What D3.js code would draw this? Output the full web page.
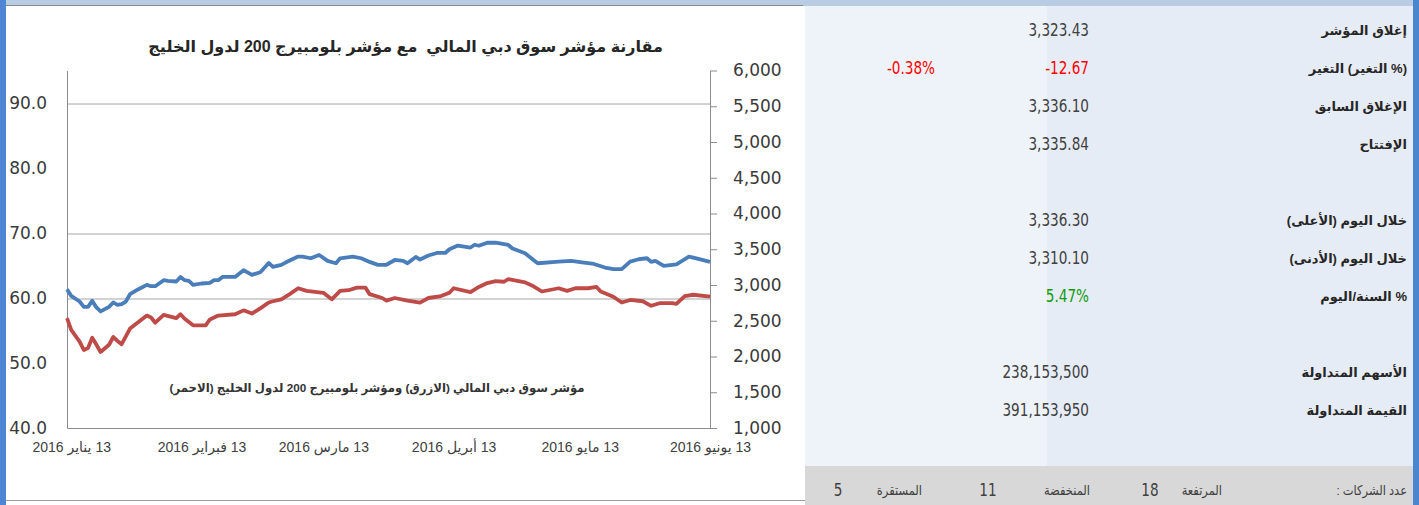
<!DOCTYPE html>
<html>
<head>
<meta charset="utf-8">
<script src="https://cdn.jsdelivr.net/npm/d3@7"></script>
<style>
  body { margin: 0; background: #fff; }
  svg { display: block; }
  .axis text { font-family: "DejaVu Sans", sans-serif; fill: #3a3a3a; }
  .x-axis text { font-family: "Liberation Sans", "DejaVu Sans", sans-serif; font-size: 14px; fill: #404040; }
  .ar { font-family: "Liberation Sans", "DejaVu Sans", sans-serif; }
  .num { font-family: "Liberation Sans Narrow", "DejaVu Sans", sans-serif; }
</style>
</head>
<body>
<div id="page"></div>
<script>

// DFM general index (blue, right axis)
var dfmDates = ["2016-01-12","2016-01-13","2016-01-15","2016-01-16","2016-01-17","2016-01-18","2016-01-19","2016-01-20",
  "2016-01-22","2016-01-23","2016-01-24","2016-01-25","2016-01-26","2016-01-27","2016-01-29","2016-01-31","2016-02-01",
  "2016-02-02","2016-02-04","2016-02-05","2016-02-07","2016-02-08","2016-02-09","2016-02-10","2016-02-11","2016-02-13",
  "2016-02-15","2016-02-16","2016-02-17","2016-02-18","2016-02-21","2016-02-23","2016-02-25","2016-02-27","2016-02-29",
  "2016-03-01","2016-03-03","2016-03-04","2016-03-07","2016-03-08","2016-03-10","2016-03-12","2016-03-14","2016-03-16",
  "2016-03-17","2016-03-20","2016-03-22","2016-03-24","2016-03-26","2016-03-28","2016-03-30","2016-04-01","2016-04-02",
  "2016-04-04","2016-04-05","2016-04-07","2016-04-09","2016-04-11","2016-04-12","2016-04-14","2016-04-17","2016-04-18",
  "2016-04-19","2016-04-21","2016-04-23","2016-04-26","2016-04-27","2016-04-30","2016-05-02","2016-05-03","2016-05-08",
  "2016-05-11","2016-05-14","2016-05-16","2016-05-19","2016-05-21","2016-05-23","2016-05-25","2016-05-27","2016-05-29",
  "2016-05-30","2016-05-31","2016-06-02","2016-06-05","2016-06-08","2016-06-10","2016-06-13"];
var dfmValues = [2941,2848,2769,2694,2694,2778,2686,2630,
  2694,2756,2722,2732,2769,2871,2941,3001,2983,
  2983,3067,3057,3049,3113,3067,3057,3001,3021,
  3029,3067,3067,3113,3113,3207,3141,3179,3309,
  3253,3281,3314,3398,3398,3374,3420,3337,3304,
  3374,3398,3374,3323,3281,3283,3350,3337,3304,
  3392,3356,3412,3448,3448,3500,3552,3524,3563,
  3549,3591,3591,3560,3510,3444,3350,3304,3328,
  3337,3314,3300,3244,3221,3221,3328,3360,3374,
  3323,3337,3267,3290,3398,3370,3323];

// Bloomberg GCC 200 (red, left axis)
var gccDates = ["2016-01-12","2016-01-13","2016-01-15","2016-01-16","2016-01-17","2016-01-18","2016-01-19","2016-01-20",
  "2016-01-22","2016-01-23","2016-01-24","2016-01-25","2016-01-27","2016-01-29","2016-01-31","2016-02-01","2016-02-02",
  "2016-02-04","2016-02-07","2016-02-08","2016-02-09","2016-02-11","2016-02-14","2016-02-15","2016-02-17","2016-02-21",
  "2016-02-23","2016-02-25","2016-02-27","2016-02-29","2016-03-01","2016-03-03","2016-03-05","2016-03-07","2016-03-09",
  "2016-03-13","2016-03-15","2016-03-17","2016-03-19","2016-03-21","2016-03-23","2016-03-24","2016-03-27","2016-03-28",
  "2016-03-30","2016-04-02","2016-04-05","2016-04-07","2016-04-10","2016-04-12","2016-04-13","2016-04-17","2016-04-19",
  "2016-04-21","2016-04-23","2016-04-25","2016-04-26","2016-04-30","2016-05-02","2016-05-04","2016-05-08","2016-05-10",
  "2016-05-12","2016-05-15","2016-05-17","2016-05-18","2016-05-21","2016-05-23","2016-05-25","2016-05-28","2016-05-30",
  "2016-06-01","2016-06-04","2016-06-05","2016-06-07","2016-06-09","2016-06-13"];
var gccValues = [56.9,55.1,53.3,52.0,52.3,53.9,52.8,51.7,
  52.8,54.0,53.4,52.9,55.3,56.3,57.3,57.0,56.2,
  57.4,56.9,57.5,56.8,55.8,55.8,56.7,57.3,57.5,
  58.1,57.6,58.4,59.3,59.5,59.8,60.6,61.5,61.1,
  60.8,59.8,61.1,61.2,61.6,61.6,60.6,60.0,59.6,
  60.0,59.6,59.3,60.0,60.3,60.8,61.5,60.9,61.7,
  62.3,62.6,62.5,62.9,62.4,61.8,61.0,61.5,61.1,
  61.5,61.5,61.7,61.0,60.2,59.3,59.7,59.5,58.8,
  59.2,59.2,59.1,60.3,60.5,60.2];

var leftTicks = [40, 50, 60, 70, 80, 90];
var leftGrid = [60, 70, 90];
var rightTicks = [1000, 1500, 2000, 2500, 3000, 3500, 4000, 4500, 5000, 5500, 6000];
var xTickDates = ["2016-01-13","2016-02-13","2016-03-13","2016-04-13","2016-05-13","2016-06-13"];
var xTickLabels = ["13 يناير 2016","13 فبراير 2016","13 مارس 2016","13 أبريل 2016","13 مايو 2016","13 يونيو 2016"];

var chartTitle = "مقارنة مؤشر سوق دبي المالي  مع مؤشر بلومبيرج 200 لدول الخليج";
var legendText = "مؤشر سوق دبي المالي (الازرق) ومؤشر بلومبيرج 200 لدول الخليج (الاحمر)";

// right hand summary panel
var panelLabels = ["إغلاق المؤشر","(% التغير) التغير","الإغلاق السابق","الإفتتاح","",
  "خلال اليوم (الأعلى)","خلال اليوم (الأدنى)","% السنة/اليوم","","الأسهم المتداولة","القيمة المتداولة"];
var panelValues = ["3,323.43","-12.67","3,336.10","3,335.84","","3,336.30","3,310.10","5.47%","","238,153,500","391,153,950"];
var panelChange = ["","-0.38%","","","","","","","","",""];
var footerLabels = ["عدد الشركات :","المرتفعة","المنخفضة","المستقرة"];
var footerValues = ["","18","11","5"];


var parseDate = d3.timeParse("%Y-%m-%d");

// squeeze text horizontally (narrow font look)
function condense(sel, k) {
    sel.each(function() {
        var w = this.getComputedTextLength();
        if (w > 0) {
            d3.select(this)
                .attr("textLength", w * k)
                .attr("lengthAdjust", "spacingAndGlyphs");
        }
    });
}

var svg = d3.select("#page").append("svg")
    .attr("width", 1419)
    .attr("height", 505);

// frame / backgrounds
svg.append("rect").attr("x", 0).attr("y", 0).attr("width", 1419).attr("height", 6).attr("fill", "#b8cce4");
svg.append("rect").attr("x", 0).attr("y", 0).attr("width", 6).attr("height", 505).attr("fill", "#4f86d3");
svg.append("line").attr("x1", 6).attr("x2", 803).attr("y1", 5.5).attr("y2", 5.5).attr("stroke", "#8c8c8c");
svg.append("line").attr("x1", 6).attr("x2", 805).attr("y1", 500.5).attr("y2", 500.5).attr("stroke", "#9a9a9a");
svg.append("rect").attr("x", 805).attr("y", 6).attr("width", 242).attr("height", 460).attr("fill", "#eef2f9");
svg.append("rect").attr("x", 1047).attr("y", 6).attr("width", 366).attr("height", 460).attr("fill", "#e6ecf5");
svg.append("rect").attr("x", 805).attr("y", 466).attr("width", 608).attr("height", 39).attr("fill", "#d8d8d8");
svg.append("rect").attr("x", 1413).attr("y", 0).attr("width", 6).attr("height", 505).attr("fill", "#4a86d0");


/*
 * Chart
 */
var margin = { top: 70.5, left: 67 };
var width = 643, height = 357.5;

var g = svg.append("g")
    .attr("transform", "translate(" + margin.left + "," + margin.top + ")");

var x = d3.scaleTime()
    .domain([parseDate("2016-01-12"), parseDate("2016-06-13")])
    .range([0, width]);

var yLeft = d3.scaleLinear()
    .domain([40, 95])
    .range([height, 0]);

var yRight = d3.scaleLinear()
    .domain([1000, 6000])
    .range([height, 0]);

// gridlines
g.selectAll(".grid")
    .data(leftGrid)
    .enter().append("line")
    .attr("class", "grid")
    .attr("x1", 0).attr("x2", width)
    .attr("y1", function(d) { return Math.round(yLeft(d)) + 0.5; })
    .attr("y2", function(d) { return Math.round(yLeft(d)) + 0.5; })
    .attr("stroke", "#a6a6a6")
    .attr("stroke-width", 1);

var yAxisLeft = d3.axisLeft(yLeft)
    .tickValues(leftTicks)
    .tickFormat(d3.format(".1f"))
    .tickSize(0)
    .tickPadding(20);

g.append("g")
    .attr("class", "y-axis axis")
    .call(yAxisLeft)
    .call(function(s) {
        s.select(".domain").attr("stroke", "#8c8c8c");
        s.selectAll("text").style("font-size", "17px");
    });

var yAxisRight = d3.axisRight(yRight)
    .tickValues(rightTicks)
    .tickFormat(d3.format(","))
    .tickSizeInner(7)
    .tickSizeOuter(0)
    .tickPadding(16);

g.append("g")
    .attr("class", "y2-axis axis")
    .attr("transform", "translate(" + width + ",0)")
    .call(yAxisRight)
    .call(function(s) {
        s.select(".domain").attr("stroke", "#8c8c8c");
        s.selectAll("line").attr("stroke", "#8c8c8c");
        s.selectAll("text").style("font-size", "17px");
    });

var xAxis = d3.axisBottom(x)
    .tickValues(xTickDates.map(parseDate))
    .tickFormat(function(d, i) { return xTickLabels[i]; })
    .tickSize(0)
    .tickPadding(14);

g.append("g")
    .attr("class", "x-axis axis")
    .attr("transform", "translate(0," + height + ")")
    .call(xAxis)
    .call(function(s) {
        s.select(".domain").attr("stroke", "#8c8c8c");
        s.selectAll("text").attr("direction", "rtl");
    });

var dfmData = dfmDates.map(function(d, i) { return { date: parseDate(d), value: dfmValues[i] }; });
var gccData = gccDates.map(function(d, i) { return { date: parseDate(d), value: gccValues[i] }; });

var dfmLine = d3.line()
    .x(function(d) { return x(d.date); })
    .y(function(d) { return yRight(d.value); });

var gccLine = d3.line()
    .x(function(d) { return x(d.date); })
    .y(function(d) { return yLeft(d.value); });

g.append("path")
    .datum(gccData)
    .attr("d", gccLine)
    .attr("fill", "none")
    .attr("stroke", "#be4b48")
    .attr("stroke-width", 3.8)
    .attr("stroke-linejoin", "round");

g.append("path")
    .datum(dfmData)
    .attr("d", dfmLine)
    .attr("fill", "none")
    .attr("stroke", "#4a7ebb")
    .attr("stroke-width", 3.8)
    .attr("stroke-linejoin", "round");

// title + in-chart legend note
svg.append("text")
    .attr("class", "ar")
    .attr("x", 663).attr("y", 52)
    .attr("direction", "rtl")
    .attr("text-anchor", "start")
    .style("white-space", "pre")
    .style("font-size", "16px")
    .style("font-weight", "bold")
    .attr("fill", "#262626")
    .text(chartTitle);

svg.append("text")
    .attr("class", "ar")
    .attr("x", 377).attr("y", 392)
    .attr("direction", "rtl")
    .attr("text-anchor", "middle")
    .style("font-size", "11.7px")
    .style("font-weight", "bold")
    .attr("fill", "#333")
    .text(legendText);


/*
 * Summary panel
 */
var rowY = d3.scalePoint()
    .domain(d3.range(panelLabels.length))
    .range([30, 410]);

var rows = svg.append("g").selectAll(".row")
    .data(panelLabels)
    .enter().append("g")
    .attr("class", "row")
    .attr("transform", function(d, i) { return "translate(0," + rowY(i) + ")"; });

rows.append("text")
    .attr("class", "ar")
    .attr("x", 1407).attr("dy", "0.35em")
    .attr("direction", "rtl")
    .attr("text-anchor", "start")
    .style("font-size", "13px")
    .style("font-weight", "bold")
    .attr("fill", "#262626")
    .text(function(d) { return d; });

rows.append("text")
    .attr("class", "num value")
    .attr("x", 1089).attr("dy", "0.35em")
    .attr("text-anchor", "end")
    .style("font-size", "17px")
    .attr("fill", function(d, i) {
        var v = panelValues[i];
        if (v.charAt(0) === "-") return "#ff0000";
        if (v.indexOf("%") >= 0) return "#0d9a0d";
        return "#404040";
    })
    .text(function(d, i) { return panelValues[i]; });

rows.append("text")
    .attr("class", "num value")
    .attr("x", 935).attr("dy", "0.35em")
    .attr("text-anchor", "end")
    .style("font-size", "17px")
    .attr("fill", "#ff0000")
    .text(function(d, i) { return panelChange[i]; });

condense(svg.selectAll(".value"), 0.8);

// footer: number of companies
var footLabelX = [1407, 1222, 1090, 922];
var footValueX = [0, 1150, 988, 838];
var foot = svg.append("g").attr("transform", "translate(0,490)");

foot.selectAll(".flabel")
    .data(footerLabels)
    .enter().append("text")
    .attr("class", "flabel ar")
    .attr("x", function(d, i) { return footLabelX[i]; })
    .attr("dy", "0.35em")
    .attr("direction", "rtl")
    .attr("text-anchor", "start")
    .style("font-size", "13.5px")
    .attr("fill", "#404040")
    .text(function(d) { return d; })
    .call(condense, 0.85);

foot.selectAll(".fvalue")
    .data(footerValues)
    .enter().append("text")
    .attr("class", "fvalue num")
    .attr("x", function(d, i) { return footValueX[i]; })
    .attr("dy", "0.35em")
    .attr("text-anchor", "middle")
    .style("font-size", "17px")
    .attr("fill", "#404040")
    .text(function(d) { return d; })
    .call(condense, 0.8);

</script>
</body>
</html>
